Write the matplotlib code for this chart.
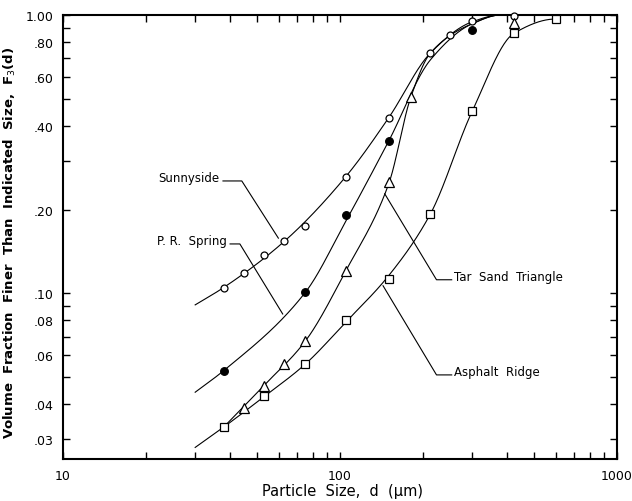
import numpy as np
import matplotlib.pyplot as plt
from matplotlib.ticker import FixedLocator, FixedFormatter, NullFormatter

# measured points: sieve size (um) vs cumulative volume fraction
sunny_d = [38, 45, 53, 63, 75, 105, 150, 212, 250, 300, 425]
sunny_f = [0.105, 0.118, 0.138, 0.154, 0.175, 0.263, 0.428, 0.73, 0.848, 0.949, 0.99]
prs_d = [38, 75, 105, 150, 300]
prs_f = [0.0528, 0.101, 0.191, 0.353, 0.886]
tst_d = [45, 53, 63, 75, 105, 150, 180, 425]
tst_f = [0.0388, 0.0466, 0.0558, 0.0675, 0.1207, 0.252, 0.506, 0.934]
asr_d = [38, 53, 75, 105, 150, 212, 300, 425, 600]
asr_f = [0.0331, 0.043, 0.0558, 0.0803, 0.1127, 0.193, 0.451, 0.86, 0.967]

# knots of the hand drawn curves
sunny_curve_d = [30, 38, 63, 105, 150, 212, 300, 380]
sunny_curve_f = [0.091, 0.105, 0.154, 0.263, 0.428, 0.73, 0.945, 1.0]
prs_curve_d = [30, 38, 75, 105, 150, 212, 300, 380]
prs_curve_f = [0.0442, 0.0528, 0.101, 0.182, 0.353, 0.69, 0.93, 1.0]
tst_curve_d = [38, 53, 75, 105, 150, 180, 212, 300, 380]
tst_curve_f = [0.0331, 0.0466, 0.0675, 0.1207, 0.248, 0.506, 0.73, 0.93, 1.0]
asr_curve_d = [30, 38, 53, 75, 105, 150, 212, 300, 425, 600]
asr_curve_f = [0.028, 0.0331, 0.0425, 0.0558, 0.079, 0.116, 0.193, 0.451, 0.86, 0.967]

y_major = [0.03, 0.04, 0.06, 0.08, 0.10, 0.20, 0.40, 0.60, 0.80, 1.00]
y_labels = ['.03', '.04', '.06', '.08', '.10', '.20', '.40', '.60', '.80', '1.00']
y_minor = [0.05, 0.07, 0.09, 0.3, 0.5, 0.7, 0.9]


def smooth_curve(xk, yk, n=400):
    """monotone cubic (Fritsch-Carlson) through the knots, in log-log space,
    flattening out at the last knot"""
    lx = np.log10(xk)
    ly = np.log10(yk)
    h = np.diff(lx)
    d = np.diff(ly) / h
    m = np.zeros_like(ly)
    m[0] = d[0]
    m[-1] = 0.0
    for i in range(1, len(lx) - 1):
        if d[i - 1] * d[i] > 0:
            w1 = 2 * h[i] + h[i - 1]
            w2 = h[i] + 2 * h[i - 1]
            m[i] = (w1 + w2) / (w1 / d[i - 1] + w2 / d[i])
    xs = np.linspace(lx[0], lx[-1], n)
    idx = np.clip(np.searchsorted(lx, xs) - 1, 0, len(h) - 1)
    t = (xs - lx[idx]) / h[idx]
    h00 = 2 * t**3 - 3 * t**2 + 1
    h10 = t**3 - 2 * t**2 + t
    h01 = -2 * t**3 + 3 * t**2
    h11 = t**3 - t**2
    ys = h00 * ly[idx] + h10 * h[idx] * m[idx] + h01 * ly[idx + 1] + h11 * h[idx] * m[idx + 1]
    return 10**xs, 10**np.minimum(ys, 0)


fig = plt.figure(figsize=(6.32, 5.02), dpi=100)
ax = fig.add_axes([0.0997, 0.0837, 0.8766, 0.8845])
ax.set_xscale('log')
ax.set_yscale('log')
ax.set_xlim(10, 1000)
ax.set_ylim(0.02545, 1.0)

lw = 0.8
for cd, cf in [(sunny_curve_d, sunny_curve_f), (prs_curve_d, prs_curve_f),
               (tst_curve_d, tst_curve_f), (asr_curve_d, asr_curve_f)]:
    xs, ys = smooth_curve(cd, cf)
    ax.plot(xs, ys, color='black', linewidth=lw, clip_on=False)

mk = dict(linestyle='none', color='black', markeredgewidth=0.9, clip_on=False, zorder=5)
ax.plot(sunny_d, sunny_f, marker='o', markersize=5, markerfacecolor='white', **mk)
ax.plot(prs_d, prs_f, marker='o', markersize=5.5, markerfacecolor='black', **mk)
ax.plot(tst_d, tst_f, marker='^', markersize=7, markerfacecolor='white', **mk)
ax.plot(asr_d, asr_f, marker='s', markersize=5.5, markerfacecolor='white', **mk)

# leader lines and labels
fs = 8.5
ax.plot([37.8, 44.2, 59.9], [0.2535, 0.2535, 0.158], color='black', linewidth=lw)
ax.text(36.6, 0.2535, 'Sunnyside', ha='right', va='baseline', fontsize=fs)
ax.plot([40.1, 43.5, 62.1], [0.1506, 0.1506, 0.0844], color='black', linewidth=lw)
ax.text(39.1, 0.1506, 'P. R.  Spring', ha='right', va='baseline', fontsize=fs)
ax.plot([145, 223, 253], [0.228, 0.112, 0.112], color='black', linewidth=lw)
ax.text(258, 0.112, 'Tar  Sand  Triangle', ha='left', va='baseline', fontsize=fs)
ax.plot([143, 223, 253], [0.1066, 0.051, 0.051], color='black', linewidth=lw)
ax.text(258, 0.051, 'Asphalt  Ridge', ha='left', va='baseline', fontsize=fs)

# axes and ticks
ax.xaxis.set_major_locator(FixedLocator([10, 100, 1000]))
ax.xaxis.set_major_formatter(FixedFormatter(['10', '100', '1000']))
ax.xaxis.set_minor_locator(FixedLocator([20, 30, 40, 50, 60, 70, 80, 90,
                                         200, 300, 400, 500, 600, 700, 800, 900]))
ax.xaxis.set_minor_formatter(NullFormatter())
ax.yaxis.set_major_locator(FixedLocator(y_major))
ax.yaxis.set_major_formatter(FixedFormatter(y_labels))
ax.yaxis.set_minor_locator(FixedLocator(y_minor))
ax.yaxis.set_minor_formatter(NullFormatter())
ax.tick_params(which='both', direction='in', top=True, right=True,
               length=5, width=1, labelsize=9)
ax.tick_params(axis='y', which='both', pad=7)
ax.tick_params(axis='x', which='both', pad=7)
for s in ax.spines.values():
    s.set_linewidth(1.5)

ax.set_xlabel('Particle  Size,  d  (\u00b5m)', fontsize=10.5)
ax.xaxis.set_label_coords(0.504, -0.054)
ax.set_ylabel('Volume  Fraction  Finer  Than  Indicated  Size,  F$_3$(d)',
              fontsize=9.5, fontweight='bold')
ax.yaxis.set_label_coords(-0.081, 0.49)

fig.savefig('out.png', dpi=100)
